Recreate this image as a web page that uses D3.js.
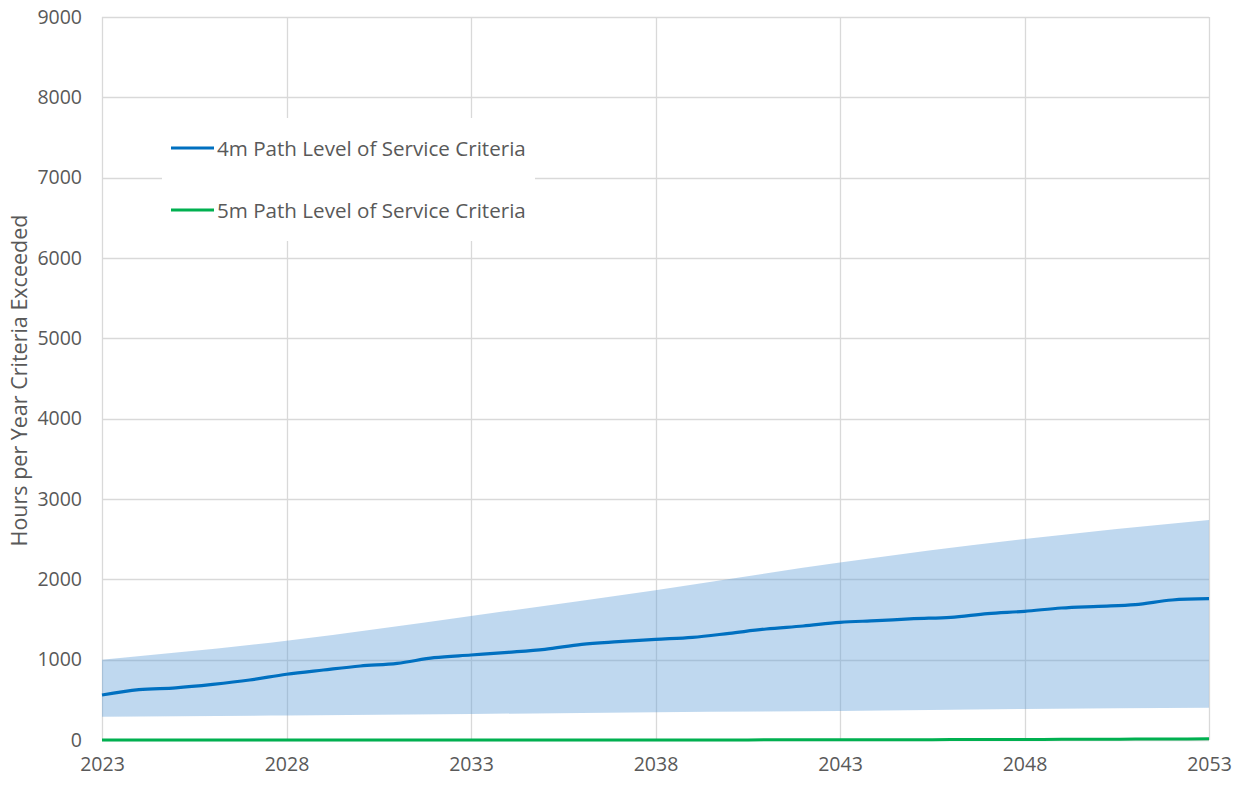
<!DOCTYPE html>
<html>
<head>
<meta charset="utf-8">
<script src="https://cdn.jsdelivr.net/npm/d3@7/dist/d3.min.js"></script>
<style>
  html, body { margin: 0; padding: 0; background: #ffffff; }
  svg { display: block; font-family: "Open Sans", "Liberation Sans", sans-serif; }
</style>
</head>
<body>
<svg id="chart" width="1242" height="785"></svg>
<script>
// Annual hours the path level-of-service criteria are exceeded
const years = d3.range(2023, 2054);
const path4m = [560, 626, 650, 693, 747, 818, 871, 921, 954, 1025, 1058, 1091, 1129, 1191, 1224,
                1253, 1278, 1328, 1382, 1419, 1465, 1485, 1510, 1527, 1573, 1602, 1643, 1664, 1685, 1743, 1759];
const path5m = [0, 0, 0, 0, 0, 0, 0, 0, 0, 0, 0, 0, 0, 0, 0,
                0, 1, 1, 2, 2, 3, 3, 4, 5, 6, 7, 8, 9, 11, 13, 15];

// Uncertainty band for the 4m path
const bandYears = [2023, 2028, 2033, 2038, 2043, 2048, 2053];
const bandUpper = [1000, 1236, 1544, 1865, 2210, 2502, 2739];
const bandLower = [290, 305, 324, 345, 361, 386, 402];

const xTicks = [2023, 2028, 2033, 2038, 2043, 2048, 2053];
const yTicks = [0, 1000, 2000, 3000, 4000, 5000, 6000, 7000, 8000, 9000];
const seriesNames = ["4m Path Level of Service Criteria", "5m Path Level of Service Criteria"];
const yTitle = "Hours per Year Criteria Exceeded";

const svg = d3.select("#chart");
const plot = { left: 102, right: 1209, top: 17, bottom: 740 };

const x = d3.scaleLinear().domain([2023, 2053]).range([plot.left, plot.right]);
const y = d3.scaleLinear().domain([0, 9000]).range([plot.bottom, plot.top]);

const textColor = "#595959";
const gridColor = "#d9d9d9";

// Gridlines
const grid = svg.append("g");
grid.selectAll("line.h").data(yTicks).join("line")
  .attr("x1", plot.left).attr("x2", plot.right)
  .attr("y1", d => Math.round(y(d)) + 0.5).attr("y2", d => Math.round(y(d)) + 0.5)
  .attr("stroke", gridColor).attr("stroke-width", 1.3);
grid.selectAll("line.v").data(xTicks).join("line")
  .attr("x1", d => Math.round(x(d)) + 0.5).attr("x2", d => Math.round(x(d)) + 0.5)
  .attr("y1", plot.top).attr("y2", plot.bottom)
  .attr("stroke", gridColor).attr("stroke-width", 1.3);

// Band
const bandData = bandYears.map((yr, i) => ({ yr, lo: bandLower[i], hi: bandUpper[i] }));
svg.append("path")
  .datum(bandData)
  .attr("fill", "#5b9bd5")
  .attr("fill-opacity", 0.39)
  .attr("d", d3.area()
    .x(d => x(d.yr))
    .y0(d => y(d.lo))
    .y1(d => y(d.hi))
    .curve(d3.curveMonotoneX));

// Lines
const line = d3.line().x(d => x(d[0])).y(d => y(d[1])).curve(d3.curveCatmullRom.alpha(0.5));
svg.append("path")
  .datum(years.map((yr, i) => [yr, path5m[i]]))
  .attr("fill", "none").attr("stroke", "#00b050").attr("stroke-width", 3)
  .attr("d", line);
svg.append("path")
  .datum(years.map((yr, i) => [yr, path4m[i]]))
  .attr("fill", "none").attr("stroke", "#0070c0").attr("stroke-width", 3.2)
  .attr("stroke-linejoin", "round")
  .attr("d", line);

// Axes (labels only, no domain lines)
const yAxis = d3.axisLeft(y).tickValues(yTicks).tickSize(0).tickPadding(20).tickFormat(d3.format("d"));
const gy = svg.append("g").attr("transform", `translate(${plot.left},0)`).call(yAxis);
gy.select(".domain").remove();
gy.selectAll("text").attr("fill", textColor).style("font-size", "19.5px")
  .style("font-family", "'Open Sans', sans-serif");

const xAxis = d3.axisBottom(x).tickValues(xTicks).tickSize(0).tickPadding(17).tickFormat(d3.format("d"));
const gx = svg.append("g").attr("transform", `translate(0,${plot.bottom})`).call(xAxis);
gx.select(".domain").remove();
gx.selectAll("text").attr("fill", textColor).style("font-size", "19.5px")
  .style("font-family", "'Open Sans', sans-serif");

// Y axis title
svg.append("text")
  .attr("transform", `translate(27,${(plot.top + plot.bottom) / 2 + 2}) rotate(-90)`)
  .attr("text-anchor", "middle")
  .attr("fill", textColor)
  .style("font-size", "21.5px")
  .text(yTitle);

// Legend
const legend = svg.append("g");
legend.append("rect")
  .attr("x", 162).attr("y", 118).attr("width", 373).attr("height", 123)
  .attr("fill", "#ffffff");
const legendColors = ["#0070c0", "#00b050"];
seriesNames.forEach((name, i) => {
  const ly = 148 + i * 62;
  legend.append("line")
    .attr("x1", 171).attr("x2", 214).attr("y1", ly).attr("y2", ly)
    .attr("stroke", legendColors[i]).attr("stroke-width", 3);
  legend.append("text")
    .attr("x", 217).attr("y", ly + 7.5)
    .attr("fill", textColor)
    .style("font-size", "20.6px")
    .text(name);
});
</script>
</body>
</html>
